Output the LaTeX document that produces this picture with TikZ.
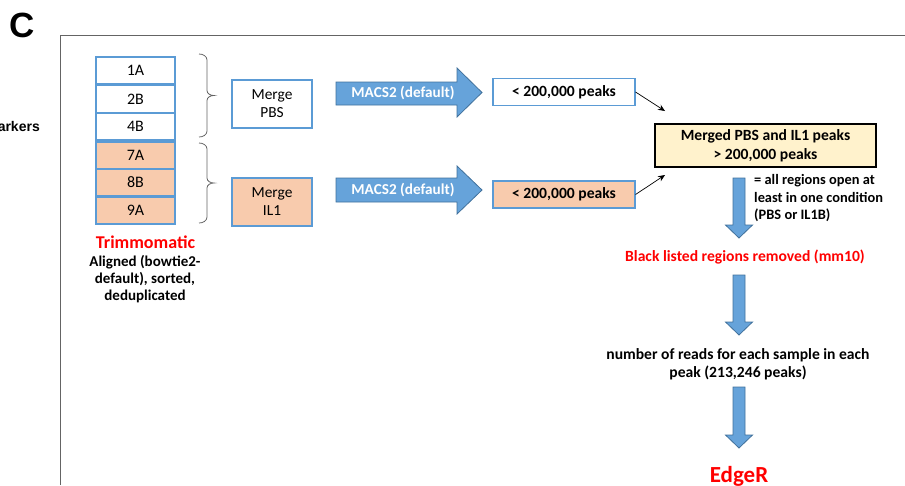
\documentclass[tikz,border=0pt]{standalone}
\usepackage{fontspec}
\setmainfont{Carlito}
\newfontfamily\arialfont{Liberation Sans}
\usetikzlibrary{arrows.meta,calc}
\definecolor{boxblue}{RGB}{91,155,213}
\definecolor{peach}{RGB}{248,203,173}
\definecolor{arrfill}{RGB}{102,163,218}
\definecolor{arrdraw}{RGB}{65,113,156}
\definecolor{lightyellow}{RGB}{255,242,204}
\definecolor{framegray}{RGB}{100,100,100}
\definecolor{redtext}{RGB}{255,0,0}
\newcommand\dnarrow[3]{\draw[blockarrow] (733,#1) -- (745,#1) -- (745,#2) -- (752.5,#2) -- (739,#3) -- (725.5,#2) -- (733,#2) -- cycle;}
\newcommand\mybrace[2]{\draw[bracestyle] (199,#1) to[out=0,in=90] (207,#1+6) -- (207,{(#1+#2)/2-5}) to[out=-90,in=180] (214,{(#1+#2)/2}) to[out=180,in=90] (207,{(#1+#2)/2+5}) -- (207,#2-6) to[out=-90,in=0] (199,#2);}
\begin{document}
\begin{tikzpicture}[x=1pt,y=-1pt,
  sample/.style={draw=boxblue, line width=1.1pt, minimum width=79pt, minimum height=27pt, inner sep=0pt, font=\fontsize{16}{18}\selectfont},
  mergebox/.style={draw=boxblue, line width=1.1pt, minimum width=80pt, minimum height=48pt, inner sep=0pt, align=center, font=\fontsize{15.4}{18}\selectfont},
  peakbox/.style={draw=boxblue, line width=1.1pt, minimum width=142pt, minimum height=27pt, inner sep=0pt, font=\fontsize{15.6}{17}\selectfont\bfseries},
  blockarrow/.style={fill=arrfill, draw=arrdraw, line width=0.8pt},
  macs/.style={text=white, font=\fontsize{15.2}{17}\selectfont\bfseries, inner sep=0pt},
  btext/.style={inner sep=0pt},
  conn/.style={-{Stealth[length=7pt,width=6pt]}, line width=0.7pt},
  bracestyle/.style={draw=framegray, line width=0.8pt}
]
\useasboundingbox (0,0) rectangle (905,485);

% panel label and cut-off text
\node[font=\arialfont\fontsize{35}{35}\selectfont\bfseries, inner sep=0pt] (lblC) at (22,25) {C};
\node[font=\arialfont\fontsize{14}{16}\selectfont\bfseries, anchor=east, inner sep=0pt] (mk) at (40,126) {arkers};

% frame
\draw[framegray, line width=0.8pt] (60,485) -- (60,35) -- (905,35);

% samples
\node[sample] (s1) at (135.5,70.5) {1A};
\node[sample] (s2) at (135.5,99) {2B};
\node[sample] (s3) at (135.5,126.5) {4B};
\node[sample, fill=peach] (s4) at (135.5,155.5) {7A};
\node[sample, fill=peach] (s5) at (135.5,182.5) {8B};
\node[sample, fill=peach] (s6) at (135.5,210.5) {9A};

\node[font=\fontsize{18}{20}\selectfont\bfseries, text=redtext, inner sep=0pt] (trim) at (145.5,242) {Trimmomatic};
\node[btext, align=center, font=\fontsize{15}{17}\selectfont\bfseries] (align) at (145,279.5) {Aligned (bowtie2-\\default), sorted,\\deduplicated};

% braces
\mybrace{54}{137}
\mybrace{143}{223}

% merge boxes
\node[mergebox] (mp) at (272,104) {Merge\\PBS};
\node[mergebox, fill=peach] (mi) at (272,202) {Merge\\IL1};

% MACS2 arrows
\draw[blockarrow] (336,82) -- (457,82) -- (457,68) -- (482,92.5) -- (457,117) -- (457,105) -- (336,105) -- cycle;
\node[macs] (macs1) at (403,93.5) {MACS2 (default)};
\draw[blockarrow] (336,178) -- (457,178) -- (457,166) -- (482,190) -- (457,214) -- (457,202) -- (336,202) -- cycle;
\node[macs] (macs2) at (403,190) {MACS2 (default)};

% peak boxes
\node[peakbox] (p1) at (564,92) {< 200,000 peaks};
\node[peakbox, fill=peach] (p2) at (564,194.5) {< 200,000 peaks};

% merged box
\node[draw=black, line width=1.5pt, fill=lightyellow, minimum width=221pt, minimum height=43pt, inner sep=0pt, align=center, font=\fontsize{15.6}{19}\selectfont\bfseries] (merged) at (765.5,145.5) {Merged PBS and IL1 peaks\\> 200,000 peaks};

\coordinate (m1) at (665,111);
\coordinate (m2) at (665,175);
\draw[conn] (p1.east) -- (m1);
\draw[conn] (p2.east) -- (m2);

% down arrows
\dnarrow{178}{225}{238}
\dnarrow{275}{322}{335}
\dnarrow{387}{435}{448}

\node[btext, align=left, anchor=west, font=\fontsize{14.4}{17.5}\selectfont\bfseries] (note) at (754,198.5) {= all regions open at\\least in one condition\\(PBS or IL1B)};

\node[font=\fontsize{15.6}{17}\selectfont\bfseries, text=redtext, inner sep=0pt] (bl) at (745,257) {Black listed regions removed (mm10)};

\node[btext, align=center, font=\fontsize{15.6}{18}\selectfont\bfseries] (reads) at (738,364) {number of reads for each sample in each\\peak (213,246 peaks)};

\node[font=\fontsize{23}{25}\selectfont\bfseries, text=redtext, inner sep=0pt, anchor=base] (edger) at (739,482) {EdgeR};
\end{tikzpicture}
\end{document}
